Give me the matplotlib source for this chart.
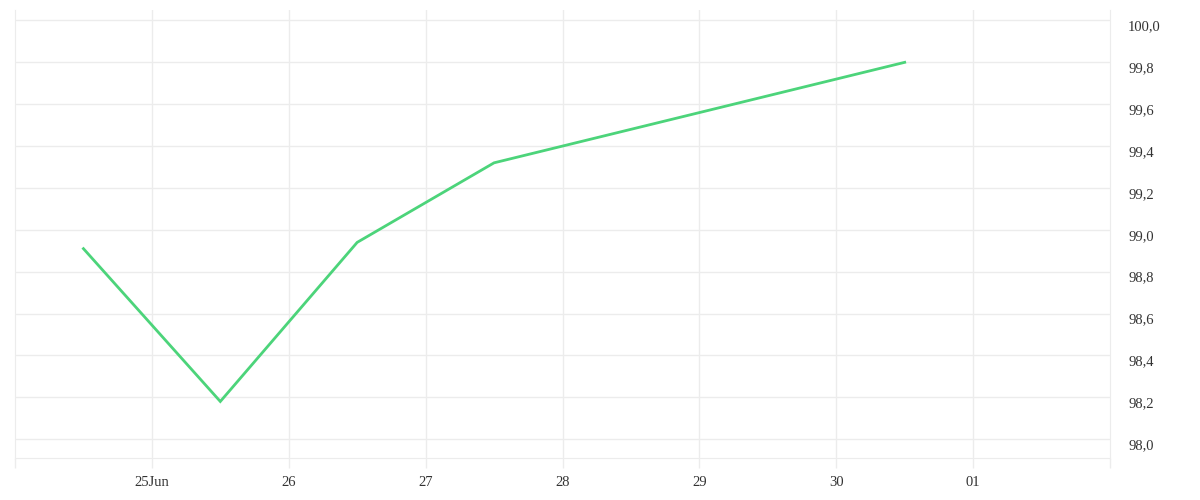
import numpy as np
import pandas as pd
import matplotlib
matplotlib.use('Agg')
import matplotlib.pyplot as plt
import matplotlib.dates as mdates
from matplotlib.ticker import FixedLocator, FuncFormatter

DATES  = ['2024-06-24 12:00', '2024-06-25 12:00', '2024-06-26 12:00',
          '2024-06-27 12:00', '2024-06-30 12:00']
VALUES = [98.91, 98.18, 98.94, 99.32, 99.80]

TICK_DATES  = ['2024-06-25', '2024-06-26', '2024-06-27', '2024-06-28',
               '2024-06-29', '2024-06-30', '2024-07-01']
TICK_LABELS = ['25Jun', '26', '27', '28', '29', '30', '01']
Y_TICKS     = [98.0, 98.2, 98.4, 98.6, 98.8, 99.0, 99.2, 99.4, 99.6, 99.8, 100.0]

X_MIN, X_MAX = '2024-06-24', '2024-07-02'
Y_MIN, Y_MAX = 97.91, 100.05

LINE_COLOR = '#4cd47a'
GRID_COLOR = '#ececec'
TEXT_COLOR = '#333333'

plt.rcParams['font.family'] = ['Liberation Serif', 'DejaVu Serif']

x = mdates.date2num(pd.to_datetime(DATES))
ticks_x = mdates.date2num(pd.to_datetime(TICK_DATES))

fig = plt.figure(figsize=(12, 5), dpi=100)
ax = fig.add_axes([15 / 1200, 1 - 458 / 500, 1095 / 1200, 448 / 500])

ax.plot(x, VALUES, color=LINE_COLOR, lw=2, solid_joinstyle='miter')

ax.set_xlim(mdates.date2num(pd.Timestamp(X_MIN)), mdates.date2num(pd.Timestamp(X_MAX)))
ax.set_ylim(Y_MIN, Y_MAX)

ax.xaxis.set_major_locator(FixedLocator(ticks_x))
ax.xaxis.set_major_formatter(FuncFormatter(lambda v, p: TICK_LABELS[p] if p is not None and p < len(TICK_LABELS) else ''))
ax.xaxis.set_minor_locator(FixedLocator([mdates.date2num(pd.Timestamp(X_MIN)),
                                         mdates.date2num(pd.Timestamp(X_MAX))]))
ax.tick_params(axis='x', which='both', length=7, width=1, color=GRID_COLOR,
               labelsize=10.5, labelcolor=TEXT_COLOR, pad=6)

ax.yaxis.tick_right()
ax.yaxis.set_major_locator(FixedLocator(Y_TICKS))
ax.yaxis.set_major_formatter(FuncFormatter(lambda v, p: f'{v:.1f}'.replace('.', ',')))
ax.tick_params(axis='y', length=0, labelsize=10.5, labelcolor=TEXT_COLOR, pad=13)
for lab in ax.get_yticklabels():
    lab.set_verticalalignment('top')

ax.grid(True, color=GRID_COLOR, lw=1)
ax.set_axisbelow(True)
for side in ['left', 'right', 'bottom']:
    ax.spines[side].set_color(GRID_COLOR)
ax.spines['top'].set_visible(False)

fig.savefig('out.png', dpi=100, facecolor='white')
